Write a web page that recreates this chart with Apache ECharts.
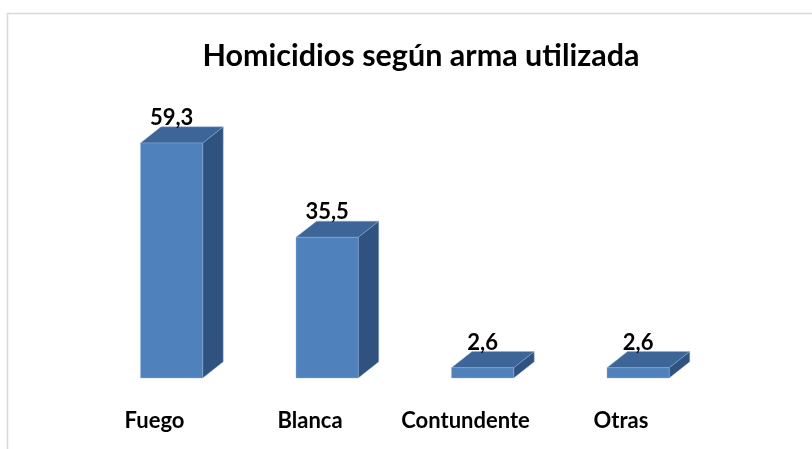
<!DOCTYPE html>
<html>
<head>
<meta charset="utf-8">
<script src="https://cdn.jsdelivr.net/npm/echarts@6/dist/echarts.min.js"></script>
<style>html,body{margin:0;padding:0;background:#fff;}#chart{width:812px;height:449px;}</style>
</head>
<body>
<div id="chart"></div>
<script>
const titleText = 'Homicidios según arma utilizada';
const categories = ['Fuego', 'Blanca', 'Contundente', 'Otras'];
const values = [59.3, 35.5, 2.6, 2.6];
const valueLabels = ['59,3', '35,5', '2,6', '2,6'];

const FONT = 'Lato';
const chart = echarts.init(document.getElementById('chart'));

function renderItem(params, api) {
  const i = api.value(0);
  const v = api.value(1);
  const top = api.coord([i, v]);
  const base = api.coord([i, 0]);
  const band = api.size([1, 0])[0];
  const w = band * 0.4;
  const off = band * 0.11;
  const dx = w * 0.33;
  const dy = w * 0.26;
  const x0 = top[0] + off - w / 2;
  const x1 = x0 + w;
  const yt = top[1];
  const yb = base[1];
  const edge = 'rgba(150,180,220,0.5)';
  return {
    type: 'group',
    children: [
      { type: 'polygon', shape: { points: [[x1, yt], [x1 + dx, yt - dy], [x1 + dx, yb - dy], [x1, yb]] },
        style: { fill: '#30527f', stroke: edge, lineWidth: 0.8 } },
      { type: 'polygon', shape: { points: [[x0, yt], [x1, yt], [x1 + dx, yt - dy], [x0 + dx, yt - dy]] },
        style: { fill: '#3d6597', stroke: edge, lineWidth: 0.8 } },
      { type: 'rect', shape: { x: x0, y: yt, width: w, height: yb - yt },
        style: { fill: '#4f81bd', stroke: edge, lineWidth: 0.8 } },
      { type: 'text', x: x0 + w / 2, y: yt - 25,
        style: { text: valueLabels[i], fill: '#000', font: 'bold 22px ' + FONT, align: 'center', verticalAlign: 'middle' } }
    ]
  };
}

chart.setOption({
  backgroundColor: '#fff',
  animation: false,
  title: {
    text: titleText, left: 416, top: 36, textAlign: 'center',
    textStyle: { fontFamily: FONT, fontWeight: 'bold', fontSize: 30.5, color: '#000' }
  },
  graphic: [{
    type: 'rect', shape: { x: 7.5, y: 13.5, width: 830, height: 460 },
    style: { fill: 'none', stroke: '#d9d9d9', lineWidth: 1.5 }, silent: true
  }],
  grid: { left: 76.75, right: 113.25, top: 140.2, bottom: 71 },
  xAxis: {
    type: 'category', data: categories,
    axisLine: { show: false }, axisTick: { show: false },
    axisLabel: { interval: 0, hideOverlap: false, margin: 32, fontFamily: FONT, fontWeight: 'bold', fontSize: 22, color: '#000' }
  },
  yAxis: { type: 'value', min: 0, max: 60, show: false, splitLine: { show: false } },
  series: [{
    type: 'custom', renderItem: renderItem,
    data: values.map((v, i) => [i, v]), encode: { x: 0, y: 1 }
  }]
});
</script>
</body>
</html>
